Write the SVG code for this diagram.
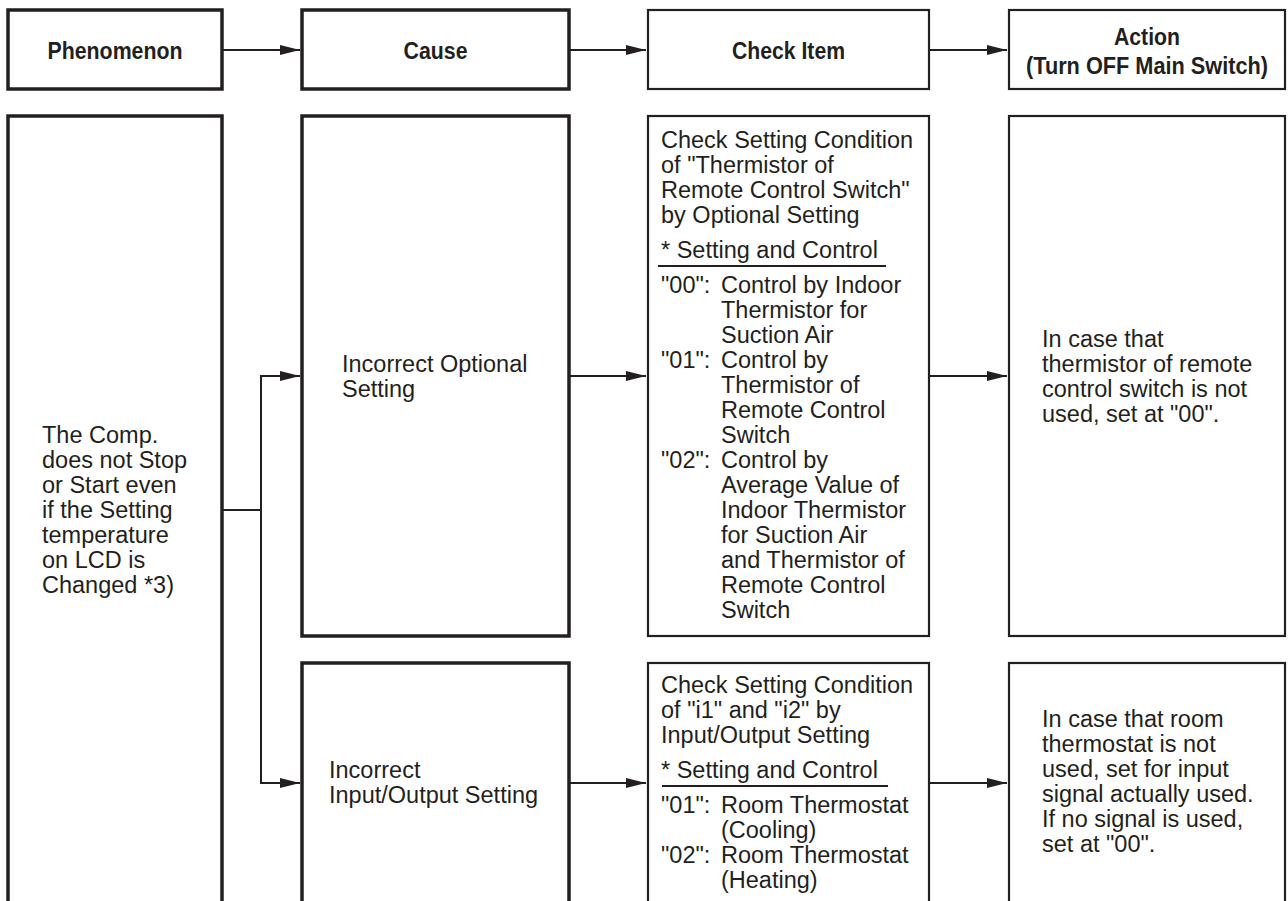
<svg xmlns="http://www.w3.org/2000/svg" width="1288" height="901" viewBox="0 0 1288 901">
<style>
  .heavy{fill:#fff;stroke:#231f20;stroke-width:3.5}
  .thin{fill:#fff;stroke:#231f20;stroke-width:2.2}
  .hd{font-family:"Liberation Sans",Arial,Helvetica,sans-serif;font-weight:bold;font-size:23.5px;fill:#231f20;text-anchor:middle}
  .tx{font-family:"Liberation Sans",Arial,Helvetica,sans-serif;font-size:23.5px;fill:#231f20}
  .ln{fill:none;stroke:#231f20;stroke-width:2}
  .ul{stroke:#231f20;stroke-width:1.8}
</style>
<defs>
  <marker id="ah" viewBox="0 0 20 10" refX="20" refY="5" markerWidth="20" markerHeight="10" markerUnits="userSpaceOnUse" orient="auto-start-reverse">
    <path d="M0,0 L20,5 L0,10 z" fill="#231f20"/>
  </marker>
</defs>
<rect width="1288" height="901" fill="#fff"/>

<g id="connectors">
  <path class="ln" d="M222,50 H300" marker-end="url(#ah)"/>
  <path class="ln" d="M569,50 H646" marker-end="url(#ah)"/>
  <path class="ln" d="M929,50 H1007" marker-end="url(#ah)"/>
  <path class="ln" d="M222,510 H261"/>
  <path class="ln" d="M300,376 H261 V783 H300" marker-start="url(#ah)" marker-end="url(#ah)"/>
  <path class="ln" d="M569,376 H646" marker-end="url(#ah)"/>
  <path class="ln" d="M569,783 H646" marker-end="url(#ah)"/>
  <path class="ln" d="M929,376 H1007" marker-end="url(#ah)"/>
  <path class="ln" d="M929,783 H1007" marker-end="url(#ah)"/>
</g>

<g id="hdr-phenomenon">
  <rect class="heavy" x="8" y="10" width="214" height="79"/>
  <text class="hd" x="115" y="59" textLength="135" lengthAdjust="spacingAndGlyphs">Phenomenon</text>
</g>
<g id="hdr-cause">
  <rect class="heavy" x="302" y="10" width="267" height="79"/>
  <text class="hd" x="435.5" y="59" textLength="64" lengthAdjust="spacingAndGlyphs">Cause</text>
</g>
<g id="hdr-check">
  <rect class="thin" x="648" y="10" width="281" height="79"/>
  <text class="hd" x="788.5" y="59" textLength="113" lengthAdjust="spacingAndGlyphs">Check Item</text>
</g>
<g id="hdr-action">
  <rect class="thin" x="1009" y="10" width="276" height="79"/>
  <text class="hd" x="1147" y="45" textLength="66" lengthAdjust="spacingAndGlyphs">Action</text>
  <text class="hd" x="1147" y="74" textLength="242" lengthAdjust="spacingAndGlyphs">(Turn OFF Main Switch)</text>
</g>

<g id="phenomenon">
  <rect class="heavy" x="8" y="116" width="214" height="820"/>
  <text class="tx" x="42" y="443">The Comp.</text>
  <text class="tx" x="42" y="468">does not Stop</text>
  <text class="tx" x="42" y="493">or Start even</text>
  <text class="tx" x="42" y="518">if the Setting</text>
  <text class="tx" x="42" y="543">temperature</text>
  <text class="tx" x="42" y="568">on LCD is</text>
  <text class="tx" x="42" y="593">Changed *3)</text>
</g>

<g id="cause-1">
  <rect class="heavy" x="302" y="116" width="267" height="520"/>
  <text class="tx" x="342" y="372">Incorrect Optional</text>
  <text class="tx" x="342" y="397">Setting</text>
</g>
<g id="cause-2">
  <rect class="heavy" x="302" y="663" width="267" height="300"/>
  <text class="tx" x="329" y="778">Incorrect</text>
  <text class="tx" x="329" y="803">Input/Output Setting</text>
</g>

<g id="check-1">
  <rect class="thin" x="648" y="116" width="281" height="520"/>
  <text class="tx" x="661" y="148">Check Setting Condition</text>
  <text class="tx" x="661" y="173">of "Thermistor of</text>
  <text class="tx" x="661" y="198">Remote Control Switch"</text>
  <text class="tx" x="661" y="223">by Optional Setting</text>
  <text class="tx" x="661" y="258">* Setting and Control</text>
  <line class="ul" x1="658" y1="266" x2="886" y2="266"/>
  <text class="tx" x="661" y="293">"00":</text>
  <text class="tx" x="721" y="293">Control by Indoor</text>
  <text class="tx" x="721" y="318">Thermistor for</text>
  <text class="tx" x="721" y="343">Suction Air</text>
  <text class="tx" x="661" y="368">"01":</text>
  <text class="tx" x="721" y="368">Control by</text>
  <text class="tx" x="721" y="393">Thermistor of</text>
  <text class="tx" x="721" y="418">Remote Control</text>
  <text class="tx" x="721" y="443">Switch</text>
  <text class="tx" x="661" y="468">"02":</text>
  <text class="tx" x="721" y="468">Control by</text>
  <text class="tx" x="721" y="493">Average Value of</text>
  <text class="tx" x="721" y="518">Indoor Thermistor</text>
  <text class="tx" x="721" y="543">for Suction Air</text>
  <text class="tx" x="721" y="568">and Thermistor of</text>
  <text class="tx" x="721" y="593">Remote Control</text>
  <text class="tx" x="721" y="618">Switch</text>
</g>
<g id="check-2">
  <rect class="thin" x="648" y="663" width="281" height="300"/>
  <text class="tx" x="661" y="693">Check Setting Condition</text>
  <text class="tx" x="661" y="718">of "i1" and "i2" by</text>
  <text class="tx" x="661" y="743">Input/Output Setting</text>
  <text class="tx" x="661" y="778">* Setting and Control</text>
  <line class="ul" x1="662" y1="786" x2="888" y2="786"/>
  <text class="tx" x="661" y="813">"01":</text>
  <text class="tx" x="721" y="813">Room Thermostat</text>
  <text class="tx" x="721" y="838">(Cooling)</text>
  <text class="tx" x="661" y="863">"02":</text>
  <text class="tx" x="721" y="863">Room Thermostat</text>
  <text class="tx" x="721" y="888">(Heating)</text>
</g>

<g id="action-1">
  <rect class="thin" x="1009" y="116" width="276" height="520"/>
  <text class="tx" x="1042" y="347">In case that</text>
  <text class="tx" x="1042" y="372">thermistor of remote</text>
  <text class="tx" x="1042" y="397">control switch is not</text>
  <text class="tx" x="1042" y="422">used, set at "00".</text>
</g>
<g id="action-2">
  <rect class="thin" x="1009" y="663" width="276" height="300"/>
  <text class="tx" x="1042" y="727">In case that room</text>
  <text class="tx" x="1042" y="752">thermostat is not</text>
  <text class="tx" x="1042" y="777">used, set for input</text>
  <text class="tx" x="1042" y="802">signal actually used.</text>
  <text class="tx" x="1042" y="827">If no signal is used,</text>
  <text class="tx" x="1042" y="852">set at "00".</text>
</g>
</svg>
